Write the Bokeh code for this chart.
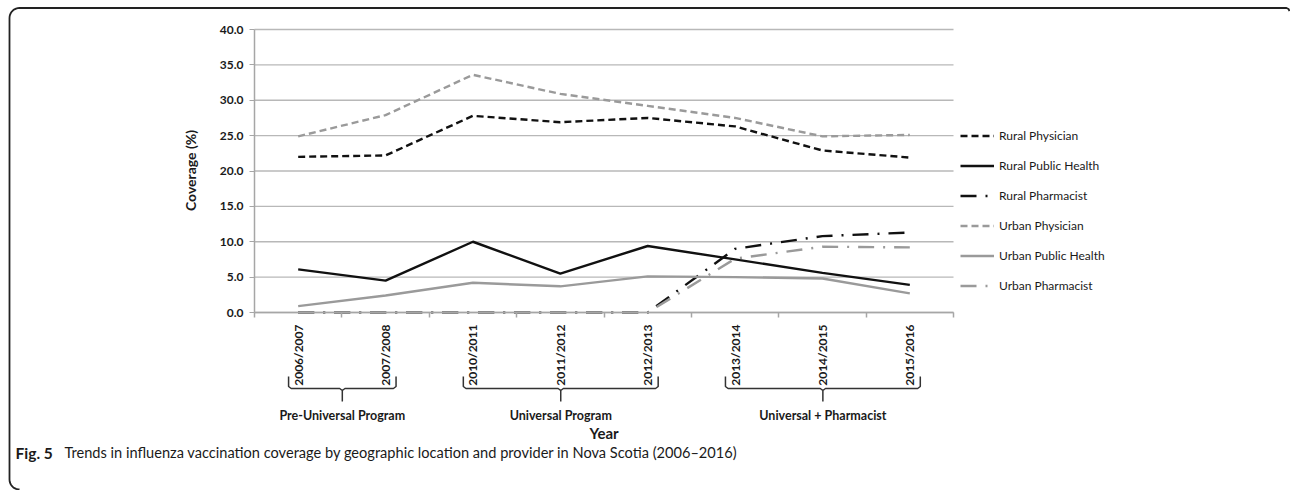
from math import pi, cos, sin

from bokeh.plotting import figure
from bokeh.models import (Range1d, FixedTicker, NumeralTickFormatter, Label,
                          PolyAnnotation, Legend, LegendItem, LinearAxis)
from bokeh.embed import file_html
from bokeh.resources import INLINE

# ---- data -----------------------------------------------------------------
years = ["2006/2007", "2007/2008", "2010/2011", "2011/2012",
         "2012/2013", "2013/2014", "2014/2015", "2015/2016"]

rural_physician = [22.0, 22.2, 27.8, 26.9, 27.5, 26.3, 22.9, 21.9]
rural_public_health = [6.1, 4.5, 10.0, 5.5, 9.4, 7.5, 5.6, 3.9]
rural_pharmacist = [0.0, 0.0, 0.0, 0.0, 0.0, 9.0, 10.8, 11.3]
urban_physician = [24.9, 27.9, 33.6, 30.9, 29.2, 27.5, 24.9, 25.1]
urban_public_health = [0.9, 2.4, 4.2, 3.7, 5.1, 5.0, 4.8, 2.7]
urban_pharmacist = [0.0, 0.0, 0.0, 0.0, 0.0, 7.6, 9.3, 9.2]

y_ticks = [0, 5, 10, 15, 20, 25, 30, 35, 40]

# program periods: (label, first year index, last year index)
periods = [("Pre-Universal Program", 0, 1),
           ("Universal Program", 2, 4),
           ("Universal + Pharmacist", 5, 7)]

caption_bold = "Fig. 5"
caption_text = ("Trends in influenza vaccination coverage by geographic location "
                "and provider in Nova Scotia (2006\u20132016)")

# ---- layout (canvas pixels) ------------------------------------------------------
W, H = 1290, 490
PLOT_L, PLOT_R, PLOT_T, PLOT_B = 254, 953, 29, 312
Y_MAX = 40
n = len(years)

# the frame covers the whole canvas; ranges are chosen so that the
# chart area (years -0.5..n-0.5, coverage 0..40) lands on PLOT_*
px_x = (PLOT_R - PLOT_L) / n
px_y = (PLOT_B - PLOT_T) / Y_MAX
x_range = Range1d(-0.5 - PLOT_L / px_x, -0.5 + (W - PLOT_L) / px_x)
y_range = Range1d(-(H - PLOT_B) / px_y, Y_MAX + PLOT_T / px_y)

BLACK = "#111111"
GREY = "#9a9a9a"
AXIS_GREY = "#a6a6a6"
TEXT = "#1a1a1a"
FONT = "Lato"

x = list(range(n))

p = figure(width=W, height=H, output_backend="svg", toolbar_location=None,
           x_range=x_range, y_range=y_range,
           x_axis_type=None, y_axis_type=None,
           min_border=0)
p.outline_line_color = None
p.background_fill_color = "white"
p.border_fill_color = "white"
p.xgrid.visible = False
p.ygrid.visible = False

# horizontal gridlines across the chart area
p.segment(x0=[-0.5] * len(y_ticks), x1=[n - 0.5] * len(y_ticks),
          y0=y_ticks, y1=y_ticks, line_color="#b8b8b8", line_width=1.3)

# y axis on the left edge of the chart area
yaxis = LinearAxis(fixed_location=-0.5, bounds=(0, Y_MAX),
                   ticker=FixedTicker(ticks=y_ticks),
                   formatter=NumeralTickFormatter(format="0.0"))
yaxis.axis_line_color = AXIS_GREY
yaxis.axis_line_width = 1.5
yaxis.major_tick_line_color = AXIS_GREY
yaxis.major_tick_out = 5
yaxis.major_tick_in = 0
yaxis.minor_tick_line_color = None
yaxis.major_label_text_font = FONT
yaxis.major_label_text_font_style = "bold"
yaxis.major_label_text_font_size = "12px"
yaxis.major_label_text_color = TEXT
yaxis.major_label_standoff = 6
p.add_layout(yaxis, "left")

# x axis at zero: year labels at the centres, tick marks between the years
xaxis = LinearAxis(fixed_location=0, bounds=(-0.5, n - 0.5),
                   ticker=FixedTicker(ticks=x, minor_ticks=[i - 0.5 for i in range(n + 1)]))
xaxis.major_label_overrides = {i: yr for i, yr in enumerate(years)}
xaxis.major_label_orientation = pi / 2
xaxis.axis_line_color = AXIS_GREY
xaxis.axis_line_width = 1.5
xaxis.major_tick_line_color = None
xaxis.major_tick_out = 0
xaxis.major_tick_in = 0
xaxis.minor_tick_line_color = AXIS_GREY
xaxis.minor_tick_line_width = 1.5
xaxis.minor_tick_out = 5
xaxis.minor_tick_in = 0
xaxis.major_label_text_font = FONT
xaxis.major_label_text_font_style = "bold"
xaxis.major_label_text_font_size = "12px"
xaxis.major_label_text_color = TEXT
xaxis.major_label_standoff = 7
p.add_layout(xaxis, "below")

# ---- series -------------------------------------------------------------------
LW = 2.4
r_rphys = p.line(x, rural_physician, line_color=BLACK, line_width=LW, line_dash="7 4")
r_rph = p.line(x, rural_public_health, line_color=BLACK, line_width=LW)
r_rpharm = p.line(x, rural_pharmacist, line_color=BLACK, line_width=LW, line_dash="16 9 2 9")
r_uphys = p.line(x, urban_physician, line_color=GREY, line_width=LW, line_dash="7 4")
r_uph = p.line(x, urban_public_health, line_color=GREY, line_width=LW)
r_upharm = p.line(x, urban_pharmacist, line_color=GREY, line_width=LW, line_dash="16 9 2 9")

legend = Legend(items=[
    LegendItem(label="Rural Physician", renderers=[r_rphys]),
    LegendItem(label="Rural Public Health", renderers=[r_rph]),
    LegendItem(label="Rural Pharmacist", renderers=[r_rpharm]),
    LegendItem(label="Urban Physician", renderers=[r_uphys]),
    LegendItem(label="Urban Public Health", renderers=[r_uph]),
    LegendItem(label="Urban Pharmacist", renderers=[r_upharm]),
], location=(960, H - 292.5))
legend.border_line_color = None
legend.background_fill_alpha = 0
legend.padding = 0
legend.margin = 0
legend.spacing = 15
legend.glyph_width = 34
legend.glyph_height = 15
legend.label_height = 15
legend.label_standoff = 5
legend.label_text_font = FONT
legend.label_text_font_size = "12px"
legend.label_text_color = TEXT
p.add_layout(legend)

# y axis title
p.add_layout(Label(x=190, y=H - 170, x_units="screen", y_units="screen",
                   text="Coverage (%)", angle=pi / 2, text_align="center",
                   text_baseline="middle", text_font=FONT, text_font_style="bold",
                   text_font_size="14px", text_color=TEXT))

# ---- period braces under the year labels ----------------------------------------
BR_TOP, BR_MID, BR_TIP = H - 376, H - 388, H - 401
for name, i0, i1 in periods:
    x0, x1 = i0 - 0.11, i1 + 0.12
    tip = (x0 + x1) / 2
    d = 0.03
    path = [(x0, BR_TOP), (x0, BR_MID + 2), (x0 + d, BR_MID),
            (tip - d, BR_MID), (tip, BR_MID - 2), (tip, BR_TIP),
            (tip, BR_MID - 2), (tip + d, BR_MID),
            (x1 - d, BR_MID), (x1, BR_MID + 2), (x1, BR_TOP)]
    path = path + path[::-1][1:]
    p.add_layout(PolyAnnotation(xs=[q[0] for q in path], ys=[q[1] for q in path],
                                xs_units="data", ys_units="screen",
                                line_color="#333333", line_alpha=1.0, line_width=1.5,
                                fill_alpha=0))
    p.add_layout(Label(x=tip, y=H - 415, x_units="data", y_units="screen",
                       text=name, text_align="center", text_baseline="middle",
                       text_font=FONT, text_font_style="bold",
                       text_font_size="12.5px", text_color=TEXT))

p.add_layout(Label(x=(n - 1) / 2, y=H - 432, x_units="data", y_units="screen",
                   text="Year", text_align="center", text_baseline="middle",
                   text_font=FONT, text_font_style="bold", text_font_size="15px",
                   text_color=TEXT))

# ---- caption ----------------------------------------------------------------------
p.add_layout(Label(x=15, y=H - 452, x_units="screen", y_units="screen",
                   text=caption_bold, text_baseline="middle",
                   text_font=FONT, text_font_style="bold", text_font_size="15.5px",
                   text_color=TEXT))
p.add_layout(Label(x=64, y=H - 452, x_units="screen", y_units="screen",
                   text=caption_text, text_baseline="middle",
                   text_font=FONT, text_font_size="14.6px", text_color=TEXT))

# ---- panel border (top and left edges, rounded corners) ----------------------------
L, T, B, R = 9, H - 7.5, 1, W - 2
rad = 10
border = [(R + 1, T - 3), (R, T - 1), (R - 2, T)]
for k in range(0, 10):
    a = pi / 2 + k * (pi / 2) / 9
    border.append((L + rad + rad * cos(a), T - rad + rad * sin(a)))
for k in range(0, 10):
    a = pi + k * (pi / 2) / 9
    border.append((L + rad + rad * cos(a), B + rad + rad * sin(a)))
border = border + border[::-1][1:]
p.add_layout(PolyAnnotation(xs=[q[0] for q in border], ys=[q[1] for q in border],
                            xs_units="screen", ys_units="screen",
                            line_color="#222222", line_alpha=1.0, line_width=1.8,
                            fill_alpha=0))

open("out.html", "w").write(file_html(p, INLINE))
